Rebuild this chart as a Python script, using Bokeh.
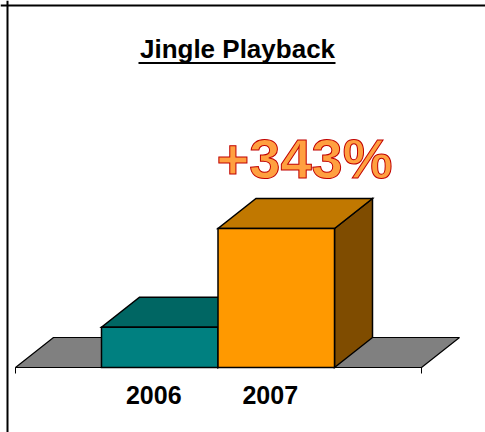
from bokeh.plotting import figure
from bokeh.models import Range1d, FixedTicker, Span, LinearAxis
from bokeh.core.properties import value
from bokeh.embed import file_html
from bokeh.resources import INLINE

# ---- data ----
categories = ["2006", "2007"]
values = [29, 100]              # relative index
front_colors = ["#008080", "#FF9900"]
top_colors = ["#006663", "#C17800"]
side_colors = ["#004D4D", "#7F4C00"]
title_text = "Jingle Playback"
growth_text = "+343%"

# ---- layout (page pixels) ----
W, H = 485, 432
PAGE_X0, PAGE_Y0 = 0, 0
PX_PER_X = 116.5
PX_PER_Y = 1.39
BAR_LEFT_PAGE = 101
BASE_PAGE_Y = 367
LABEL_SHIFT_PX = 6
x_start = 0.5 - (BAR_LEFT_PAGE - PAGE_X0) / PX_PER_X
x_end = x_start + W / PX_PER_X
y_end = (BASE_PAGE_Y - PAGE_Y0) / PX_PER_Y
y_start = -(PAGE_Y0 + H - BASE_PAGE_Y) / PX_PER_Y


def fx(px):
    return x_start + (px - PAGE_X0) / PX_PER_X


def fy(py):
    return (BASE_PAGE_Y - py) / PX_PER_Y


DX = 38 / PX_PER_X
DY = 30 / PX_PER_Y

p = figure(width=W, height=H, output_backend="svg", toolbar_location=None,
           x_range=Range1d(x_start, x_end), y_range=Range1d(y_start, y_end),
           x_axis_location=None, y_axis_location=None, min_border=0,
           outline_line_color=None, background_fill_color="white",
           border_fill_color="white")
p.xgrid.visible = False
p.ygrid.visible = False

# floor
fl, fr = fx(15), fx(421)
p.patch([fl, fr, fr + DX, fl + DX], [0, 0, DY, DY], fill_color="#808080",
        line_color="black", line_width=1.2)

# 3D bars
for i, (cat, v) in enumerate(zip(categories, values)):
    c = i + 1
    l, r = c - 0.5, c + 0.5
    p.patch([r, r + DX, r + DX, r], [0, DY, v + DY, v], fill_color=side_colors[i],
            line_color="black", line_width=1.5, line_join="miter")
    p.patch([l, r, r + DX, l + DX], [v, v, v + DY, v + DY], fill_color=top_colors[i],
            line_color="black", line_width=1.5, line_join="miter")
    p.quad(left=[l], right=[r], bottom=[0], top=[v], fill_color=front_colors[i],
           line_color="black", line_width=1.5, line_join="miter")

# axis
label_ticks = [i + 1 - LABEL_SHIFT_PX / PX_PER_X for i in range(len(categories))]
ax = LinearAxis(fixed_location=0, bounds=(fl, fr),
                ticker=FixedTicker(ticks=label_ticks, minor_ticks=[fl + 1e-6, fr - 1e-6]),
                major_label_overrides={t: c for t, c in zip(label_ticks, categories)})
ax.axis_line_color = "black"
ax.axis_line_width = 1
ax.major_tick_in = 0
ax.major_tick_out = 0
ax.minor_tick_in = 0
ax.minor_tick_out = 6
ax.minor_tick_line_color = "black"
ax.major_label_standoff = 12
ax.major_label_text_font = "Liberation Sans"
ax.major_label_text_font_size = "25px"
ax.major_label_text_font_style = "bold"
ax.major_label_text_color = "black"
p.add_layout(ax, "below")

# title with underline
p.text(x=[fx(237)], y=[fy(48)], text=[title_text], text_font=value("Liberation Sans"),
       text_font_size="26px", text_font_style="bold", text_align="center",
       text_baseline="alphabetic", text_color="black")
p.segment(x0=[fx(138)], y0=[fy(62.5)], x1=[fx(335)], y1=[fy(62.5)],
          line_color="black", line_width=2)

# growth callout
p.text(x=[fx(304)], y=[fy(158)], text=[growth_text],
       text_font=value("Liberation Sans"), text_font_size="56px",
       text_font_style="bold", text_align="center", text_baseline="alphabetic",
       text_color="#FFA040", text_outline_color="#C00000")

# frame border (top and left)
p.add_layout(Span(location=fx(7), dimension="height", line_color="black", line_width=2))
p.add_layout(Span(location=fy(5), dimension="width", line_color="black", line_width=2))

open("out.html", "w").write(file_html(p, INLINE))
